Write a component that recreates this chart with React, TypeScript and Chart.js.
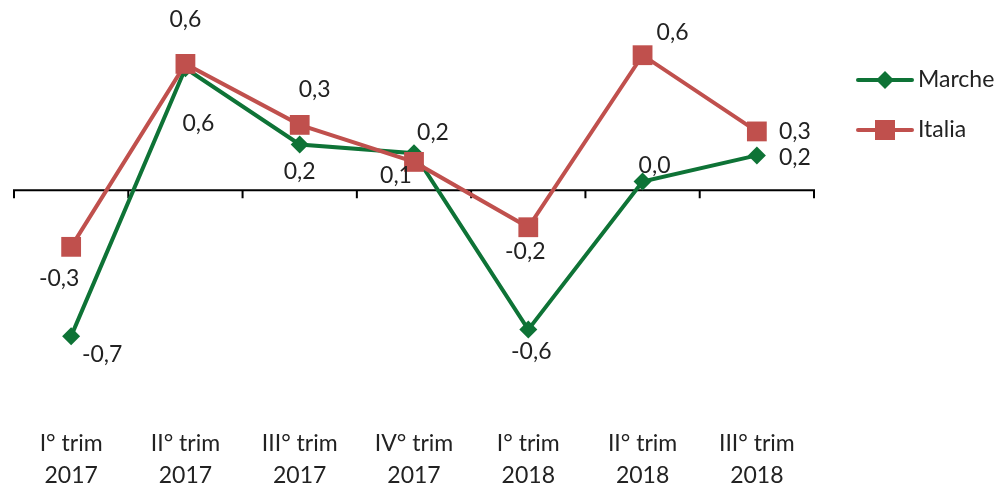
import React, { useEffect, useRef } from "react";
import { Chart, registerables } from "chart.js";
Chart.register(...registerables);

// ---- data ----
const categories: string[][] = [
  ["I° trim", "2017"],
  ["II° trim", "2017"],
  ["III° trim", "2017"],
  ["IV° trim", "2017"],
  ["I° trim", "2018"],
  ["II° trim", "2018"],
  ["III° trim", "2018"],
];
const marcheValues = [-0.67, 0.56, 0.21, 0.17, -0.64, 0.04, 0.16];
const italiaValues = [-0.26, 0.58, 0.3, 0.13, -0.17, 0.62, 0.27];
const seriesNames = ["Marche", "Italia"];
const yMin = -1.0;
const yMax = 0.8;

// ---- style ----
const GREEN = "#0E7336";
const RED = "#C0504D";
const TEXT = "#222222";
const FONT = "Lato, 'Open Sans', sans-serif";
const FONT_SIZE = 23;
// label placement relative to each point (pixels)
const marcheLabelOffsets = [[31, 18], [13, 55], [0, 27], [19, -21], [3, 22], [12, -16], [38, 2]];
const italiaLabelOffsets = [[-12, 32], [0, -44], [15, -35], [-18, 14], [-3, 24], [30, -23], [38, 0]];

const fmt = (v: number) => v.toFixed(1).replace(".", ",");

const zeroAxisPlugin = {
  id: "zeroAxis",
  beforeDatasetsDraw(chart: any) {
    const ctx = chart.ctx;
    const x = chart.scales.x;
    const y = chart.scales.y;
    const y0 = y.getPixelForValue(0);
    const { left, right } = chart.chartArea;
    ctx.save();
    ctx.strokeStyle = "#000";
    ctx.lineWidth = 2;
    ctx.beginPath();
    ctx.moveTo(left, y0);
    ctx.lineTo(right, y0);
    const n = categories.length;
    const marks: number[] = [left, right];
    for (let i = 1; i < n; i++) {
      marks.push((x.getPixelForValue(i - 1) + x.getPixelForValue(i)) / 2);
    }
    marks.forEach((mx) => {
      ctx.moveTo(mx, y0 - 1);
      ctx.lineTo(mx, y0 + 8);
    });
    ctx.stroke();
    ctx.restore();
  },
};

const labelsPlugin = {
  id: "valueLabels",
  afterDatasetsDraw(chart: any) {
    const ctx = chart.ctx;
    ctx.save();
    ctx.font = `${FONT_SIZE}px ${FONT}`;
    ctx.fillStyle = TEXT;
    ctx.textAlign = "center";
    ctx.textBaseline = "middle";
    chart.data.datasets.forEach((ds: any, di: number) => {
      const meta = chart.getDatasetMeta(di);
      const offs = ds.label === "Marche" ? marcheLabelOffsets : italiaLabelOffsets;
      meta.data.forEach((pt: any, i: number) => {
        const [dx, dy] = offs[i];
        ctx.fillText(fmt(ds.data[i]), pt.x + dx, pt.y + dy);
      });
    });
    ctx.restore();
  },
};

const legendPlugin = {
  id: "customLegend",
  afterDraw(chart: any) {
    const ctx = chart.ctx;
    const { right } = chart.chartArea;
    const x0 = right + 44;
    const x1 = right + 98;
    const items = [
      { name: seriesNames[0], color: GREEN, style: "diamond", y: 80 },
      { name: seriesNames[1], color: RED, style: "square", y: 130 },
    ];
    ctx.save();
    items.forEach((it) => {
      ctx.strokeStyle = it.color;
      ctx.fillStyle = it.color;
      ctx.lineWidth = 4;
      ctx.lineCap = "round";
      ctx.beginPath();
      ctx.moveTo(x0, it.y);
      ctx.lineTo(x1, it.y);
      ctx.stroke();
      const cx = (x0 + x1) / 2;
      ctx.beginPath();
      if (it.style === "diamond") {
        ctx.moveTo(cx - 9, it.y);
        ctx.lineTo(cx, it.y - 9);
        ctx.lineTo(cx + 9, it.y);
        ctx.lineTo(cx, it.y + 9);
        ctx.closePath();
      } else {
        ctx.rect(cx - 10, it.y - 10, 20, 20);
      }
      ctx.fill();
      ctx.fillStyle = TEXT;
      ctx.font = `${FONT_SIZE}px ${FONT}`;
      ctx.textAlign = "left";
      ctx.textBaseline = "middle";
      ctx.fillText(it.name, x1 + 6, it.y);
    });
    ctx.restore();
  },
};

export default function App() {
  const ref = useRef<HTMLCanvasElement | null>(null);
  useEffect(() => {
    document.body.style.margin = "0";
    document.body.style.overflow = "hidden";
    if (!ref.current) return;
    const chart = new Chart(ref.current, {
      type: "line",
      data: {
        labels: categories,
        datasets: [
          {
            label: seriesNames[0],
            data: marcheValues,
            borderColor: GREEN,
            backgroundColor: GREEN,
            borderWidth: 4,
            pointStyle: "rectRot",
            pointRadius: 9,
            pointBorderWidth: 0,
            pointBackgroundColor: GREEN,
            tension: 0,
            order: 1,
          },
          {
            label: seriesNames[1],
            data: italiaValues,
            borderColor: RED,
            backgroundColor: RED,
            borderWidth: 4,
            pointStyle: "rect",
            pointRadius: 14,
            pointBorderWidth: 0,
            pointBackgroundColor: RED,
            tension: 0,
            order: 0,
          },
        ],
      },
      options: {
        animation: false,
        responsive: true,
        maintainAspectRatio: false,
        layout: { padding: { left: 12, right: 189, top: 16, bottom: -26 } },
        plugins: { legend: { display: false }, tooltip: { enabled: false } },
        scales: {
          x: {
            offset: true,
            grid: { display: false, drawTicks: false },
            border: { display: false },
            ticks: {
              color: TEXT,
              font: { family: FONT, size: FONT_SIZE, lineHeight: 32 / FONT_SIZE },
              padding: 20,
              maxRotation: 0,
              autoSkip: false,
            },
          },
          y: { display: false, min: yMin, max: yMax },
        },
      },
      plugins: [zeroAxisPlugin, labelsPlugin, legendPlugin],
    });
    return () => chart.destroy();
  }, []);
  return (
    <div style={{ position: "relative", width: 1003, height: 486 }}>
      <canvas ref={ref} />
    </div>
  );
}
